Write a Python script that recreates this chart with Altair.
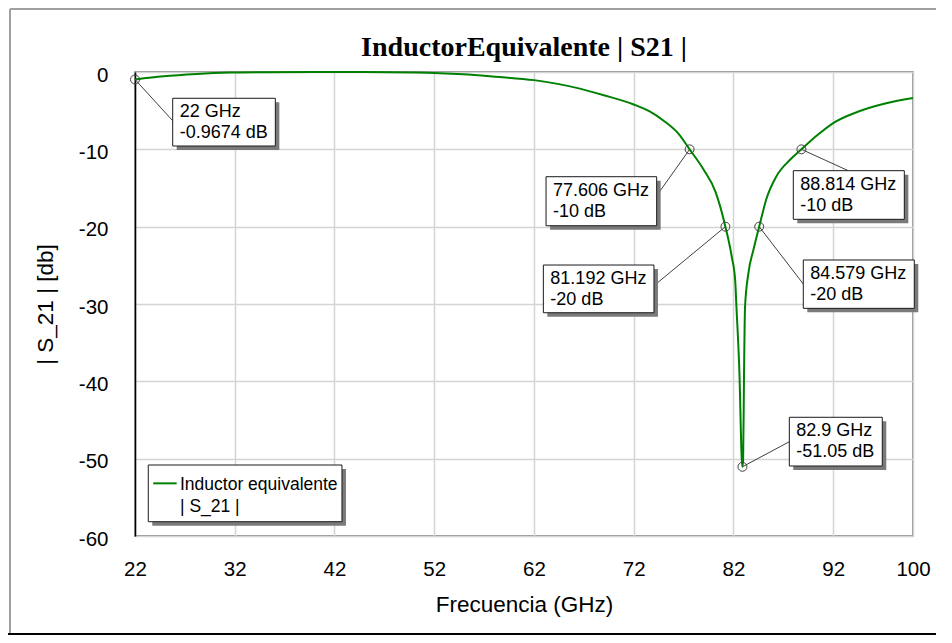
import altair as alt
import pandas as pd

# ---- curve |S21| (dB) vs frequency (GHz) ----
freq_ghz = [22, 24.85, 28.2, 31.5, 35, 40, 45, 50, 54.9, 58.1,
            62, 66.6, 69, 72, 73.6, 75, 76.5, 77.606, 79, 80.2,
            81.192, 81.83, 82.17, 82.3, 82.6, 82.83, 82.9, 82.97, 83.06, 83.16,
            83.5, 84.0, 84.579, 85.33, 86.3, 87.67, 88.814, 90.33, 92, 94.4,
            97.1, 100]
s21_db = [-0.9674, -0.56, -0.26, -0.08, -0.02, 0, 0, -0.05, -0.28, -0.6,
          -1.05, -2.15, -3.0, -4.2, -5.1, -6.3, -8.0, -10, -12.6, -15.5,
          -20, -23.9, -26.9, -30.4, -39, -50, -51.05, -50, -39, -30.4,
          -26, -23, -20, -16.3, -13.5, -11.35, -10, -8.25, -6.6, -5.17,
          -4.1, -3.36]

x_ticks = [22, 32, 42, 52, 62, 72, 82, 92, 100]
y_ticks = [0, -10, -20, -30, -40, -50, -60]

# ---- markers and their labels ----
mk_freq = [22, 77.606, 81.192, 88.814, 84.579, 82.9]
mk_db = [-0.9674, -10, -20, -10, -20, -51.05]
mk_line1 = ["22 GHz", "77.606 GHz", "81.192 GHz", "88.814 GHz", "84.579 GHz", "82.9 GHz"]
mk_line2 = ["-0.9674 dB", "-10 dB", "-20 dB", "-10 dB", "-20 dB", "-51.05 dB"]
# label boxes, in data units (GHz / dB)
box_f1 = [25.78, 63.21, 62.94, 88.0, 89.0, 87.60]
box_f2 = [36.07, 74.30, 74.03, 99.13, 100.13, 96.92]
box_db1 = [-3.40, -13.54, -24.96, -12.76, -24.31, -44.65]
box_db2 = [-9.57, -19.88, -31.13, -19.05, -30.56, -50.95]
lead_f = [25.78, 74.30, 74.03, 93.51, 89.0, 87.60]
lead_db = [-6.30, -16.0, -27.63, -12.76, -27.41, -47.81]

# ---- legend box (data units) ----
legend_label = "Inductor equivalente\n| S_21 |"
leg_f1, leg_f2 = [23.33], [42.75]
leg_db1, leg_db2 = [-50.82], [-58.15]
leg_line_f1, leg_line_f2, leg_line_db = [23.83], [26.18], [-53.19]
leg_text_f = [26.51]

curve = pd.DataFrame({"f": freq_ghz, "db": s21_db})
ann = pd.DataFrame({
    "mf": mk_freq, "mdb": mk_db,
    "label": [a + "\n" + b for a, b in zip(mk_line1, mk_line2)],
    "bf1": box_f1, "bf2": box_f2, "bd1": box_db1, "bd2": box_db2,
    "lf": lead_f, "ld": lead_db,
})
leg = pd.DataFrame({
    "bf1": leg_f1, "bf2": leg_f2, "bd1": leg_db1, "bd2": leg_db2,
    "lf1": leg_line_f1, "lf2": leg_line_f2, "ld": leg_line_db,
    "tf": leg_text_f, "label": [legend_label],
})

FONT = "Liberation Sans"
xscale = alt.Scale(domain=[22, 100], nice=False, zero=False)
yscale = alt.Scale(domain=[-60, 0], nice=False, zero=False)

x_axis = alt.Axis(values=x_ticks, title="Frecuencia (GHz)", labelExpr="'' + datum.value",
                  labelFontSize=20.5, labelPadding=23, labelFlush=False, labelColor="black",
                  ticks=False, domain=False, grid=True, gridColor="#d4d4d4", gridWidth=1.5,
                  titleFontSize=22.5, titleFontWeight="normal", titleColor="black",
                  titleX=389, titleY=68, titleBaseline="middle")
y_axis = alt.Axis(values=y_ticks, title="| S_21 | [db]", labelExpr="'' + datum.value",
                  labelFontSize=20.5, labelPadding=27, labelOffset=3, labelColor="black",
                  ticks=False, domain=True, domainColor="black", domainWidth=1.5,
                  grid=True, gridColor="#d4d4d4", gridWidth=1.5,
                  titleFontSize=22.5, titleFontWeight="normal", titleColor="black",
                  titleX=-90, titleY=232, titleAngle=270, titleAlign="center",
                  titleBaseline="middle")


def X(field):
    return alt.X(field, type="quantitative", scale=xscale, axis=x_axis)


def Y(field):
    return alt.Y(field, type="quantitative", scale=yscale, axis=y_axis)


line = alt.Chart(curve).mark_line(color="#008000", strokeWidth=2, interpolate="monotone").encode(
    x=X("f"), y=Y("db"))

leads = alt.Chart(ann).mark_rule(color="#404040", strokeWidth=1).encode(
    x=X("mf"), y=Y("mdb"), x2="lf", y2="ld")
markers = alt.Chart(ann).mark_point(shape="circle", size=80, filled=False,
                                    stroke="#404040", strokeWidth=1, opacity=1).encode(
    x=X("mf"), y=Y("mdb"))
shadows = alt.Chart(ann).mark_rect(fill="#7a7a7a", xOffset=4, x2Offset=4, yOffset=4,
                                   y2Offset=4).encode(
    x=X("bf1"), x2="bf2", y=Y("bd1"), y2="bd2")
boxes = alt.Chart(ann).mark_rect(fill="white", stroke="#1a1a1a", strokeWidth=1).encode(
    x=X("bf1"), x2="bf2", y=Y("bd1"), y2="bd2")
texts = alt.Chart(ann).mark_text(align="left", baseline="alphabetic", dx=7, dy=19,
                                 fontSize=18, lineBreak="\n", lineHeight=21,
                                 color="black", font=FONT).encode(
    x=X("bf1"), y=Y("bd1"), text="label:N")

leg_shadow = alt.Chart(leg).mark_rect(fill="#7a7a7a", xOffset=4, x2Offset=4, yOffset=4,
                                      y2Offset=4).encode(
    x=X("bf1"), x2="bf2", y=Y("bd1"), y2="bd2")
leg_box = alt.Chart(leg).mark_rect(fill="white", stroke="#1a1a1a", strokeWidth=1).encode(
    x=X("bf1"), x2="bf2", y=Y("bd1"), y2="bd2")
leg_line = alt.Chart(leg).mark_rule(color="#008000", strokeWidth=2).encode(
    x=X("lf1"), x2="lf2", y=Y("ld"))
leg_text = alt.Chart(leg).mark_text(align="left", baseline="alphabetic", dy=25,
                                    fontSize=17.5, lineBreak="\n", lineHeight=21.7,
                                    color="black", font=FONT).encode(
    x=X("tf"), y=Y("bd1"), text="label:N")

# outer frame of the picture (decoration)
frame_left = alt.Chart(curve).mark_rule(color="#a0a0a0", strokeWidth=1.5).encode(
    x=alt.value(-125), y=alt.value(-63), y2=alt.value(562))
frame_top = alt.Chart(curve).mark_rule(color="#a0a0a0", strokeWidth=1.5).encode(
    x=alt.value(-125), x2=alt.value(801), y=alt.value(-63))
frame_bottom = alt.Chart(curve).mark_rule(color="#000000", strokeWidth=1.5).encode(
    x=alt.value(-127), x2=alt.value(801), y=alt.value(562))

chart = alt.layer(
    line, leads, markers, shadows, boxes, texts,
    leg_shadow, leg_box, leg_line, leg_text,
    frame_left, frame_top, frame_bottom,
).properties(
    width=778, height=464,
    title=alt.TitleParams("InductorEquivalente | S21 |", font="Liberation Serif",
                          fontSize=28, fontWeight="bold", anchor="middle",
                          baseline="alphabetic", color="black", offset=-76),
    autosize=alt.AutoSizeParams(type="none"),
    padding={"left": 127, "top": 64, "right": 31, "bottom": 99},
).configure(font=FONT, background="white").configure_view(
    stroke="#6f6f6f", strokeWidth=1.5
).configure_axis(labelFont=FONT, titleFont=FONT)

chart.save("out.html", embed_options={"renderer": "svg", "actions": False})
